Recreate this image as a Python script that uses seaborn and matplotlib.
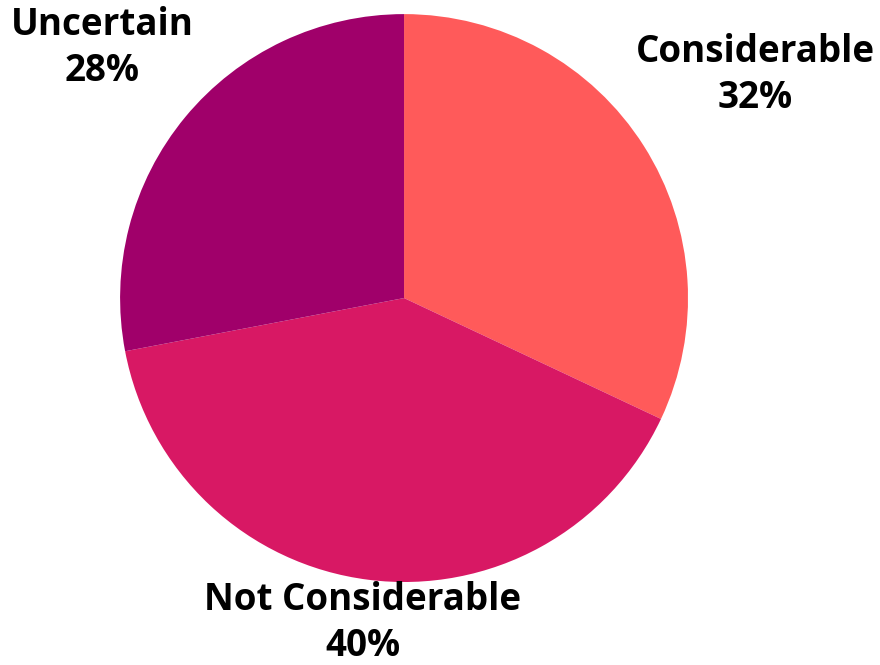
import numpy as np
import matplotlib
matplotlib.use("Agg")
import matplotlib.pyplot as plt
import seaborn as sns

categories = ["Considerable", "Not Considerable", "Uncertain"]
shares = [32, 40, 28]
colors = ["#FF5A5A", "#D81864", "#A0006A"]
# how far from the centre each label sits, in pie radii
label_dist = [1.465, 1.155, 1.38]

sns.set_theme(style="white")
plt.rcParams["font.family"] = ["Open Sans", "DejaVu Sans"]

fig = plt.figure(figsize=(8.8, 6.65), dpi=100)
ax = fig.add_axes([0.1364, 0.1248, 0.6455, 0.854])

wedges, _ = ax.pie(shares, colors=colors, startangle=90, counterclock=False,
                   wedgeprops=dict(linewidth=0))
ax.set_aspect("equal")

for w, name, val, d in zip(wedges, categories, shares, label_dist):
    mid = np.deg2rad((w.theta1 + w.theta2) / 2)
    ax.text(d * np.cos(mid), d * np.sin(mid), f"{name}\n{val}%",
            ha="center", va="center", fontsize=26.5, fontweight="bold",
            color="black", linespacing=1.28, clip_on=False)

ax.set_xlim(-1, 1)
ax.set_ylim(-1, 1)
ax.axis("off")
fig.savefig("out.png", dpi=100, facecolor="white")
